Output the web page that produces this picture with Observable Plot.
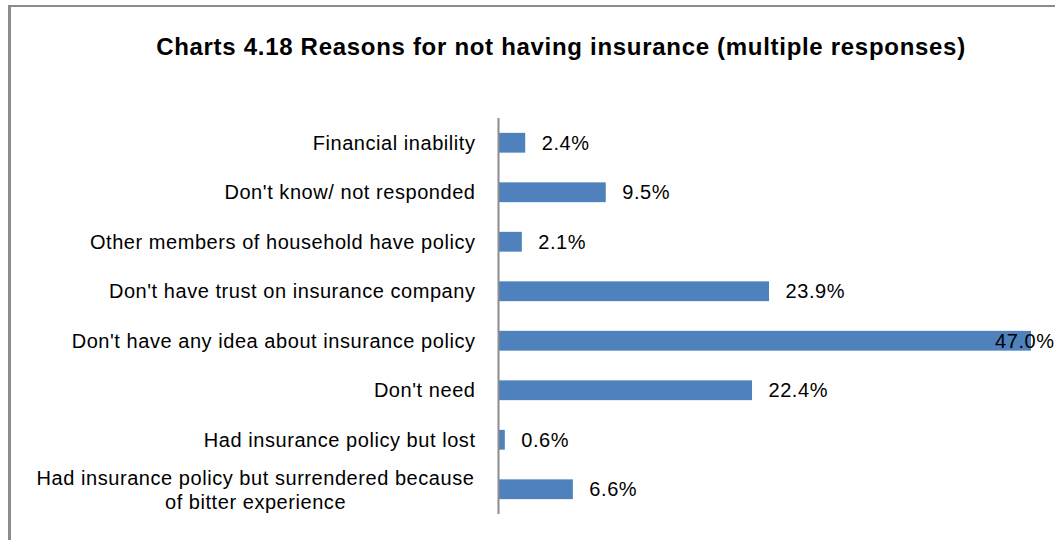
<!DOCTYPE html>
<html>
<head>
<meta charset="utf-8">
<script src="https://cdn.jsdelivr.net/npm/d3@7"></script>
<script src="https://cdn.jsdelivr.net/npm/@observablehq/plot@0.6"></script>
<style>
  html, body { margin: 0; padding: 0; background: #fff; overflow: hidden; }
  #wrap { position: relative; width: 1055px; height: 540px; }
  #frame { position: absolute; left: 8px; top: 5px; width: 1200px; height: 700px;
           border-left: 3px solid #8c8c8c; border-top: 2px solid #8c8c8c; box-sizing: border-box; }
  #title { position: absolute; left: 0; width: 1122px; top: 32px; text-align: center;
           font-family: "Liberation Sans", Arial, sans-serif; font-weight: bold; font-size: 24px;
           letter-spacing: 0.7px; color: #000; line-height: 30px; }
  #chart { position: absolute; left: 0; top: 0; }
</style>
</head>
<body>
<div id="wrap">
  <div id="frame"></div>
  <div id="chart"></div>
  <div id="title">Charts 4.18 Reasons for not having insurance (multiple responses)</div>
</div>
<script>
const categories = [
  "Financial inability",
  "Don't know/ not responded",
  "Other members of household have policy",
  "Don't have trust on insurance company",
  "Don't have any idea about insurance policy",
  "Don't need",
  "Had insurance policy but lost",
  "Had insurance policy but surrendered because\nof bitter experience"
];
const values = [2.4, 9.5, 2.1, 23.9, 47.0, 22.4, 0.6, 6.6];

const data = categories.map((c, i) => ({category: c, value: values[i]}));
const fits = d => d.value < 45;
const singleLine = d => !d.category.includes("\n");

const chart = Plot.plot({
  width: 1055,
  height: 540,
  marginLeft: 498,
  marginRight: 24,
  marginTop: 118,
  marginBottom: 26,
  style: {fontFamily: "'Liberation Sans', Arial, sans-serif", fontSize: "20px", background: "transparent"},
  x: {domain: [0, 47], axis: null},
  y: {domain: categories, axis: null, paddingInner: 0.6, paddingOuter: 0.3, round: false},
  marks: [
    Plot.barX(data, {x: "value", y: "category", fill: "#4F81BD"}),
    Plot.ruleX([0], {stroke: "#8c8c8c", strokeWidth: 2}),
    Plot.text(data.filter(fits), {x: "value", y: "category", text: d => d.value.toFixed(1) + "%",
      textAnchor: "start", dx: 16, fill: "#000", fontSize: 20}),
    Plot.text(data.filter(d => !fits(d)), {x: "value", y: "category", text: d => d.value.toFixed(1) + "%",
      textAnchor: "end", dx: 23, fill: "#000", fontSize: 20}),
    Plot.text(data.filter(singleLine), {y: "category", text: "category", frameAnchor: "left",
      textAnchor: "end", dx: -23, fill: "#000", fontSize: 20}),
    Plot.text(data.filter(d => !singleLine(d)), {y: "category", text: "category", frameAnchor: "left",
      textAnchor: "middle", dx: -243, lineHeight: 1.2, fill: "#000", fontSize: 20})
  ]
});
chart.querySelectorAll("text").forEach(t => t.style.letterSpacing = "0.55px");
document.getElementById("chart").appendChild(chart);
</script>
</body>
</html>
